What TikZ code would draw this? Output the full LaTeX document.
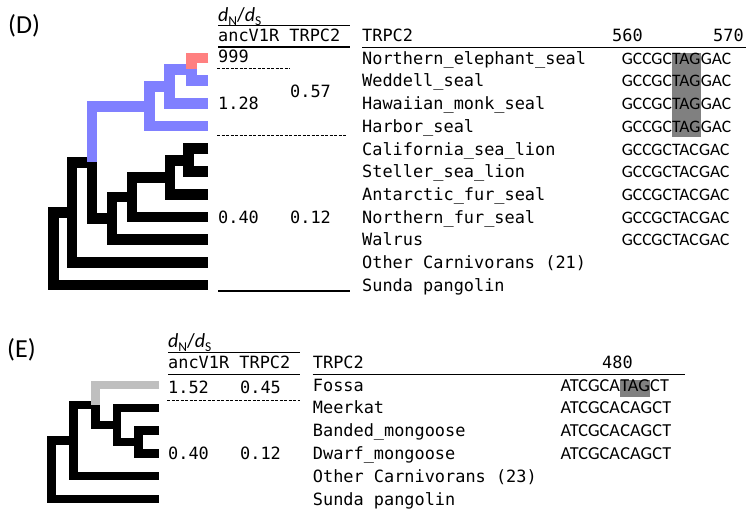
\documentclass[tikz,border=0pt]{standalone}
\usepackage{fontspec}
\setmainfont{Carlito}
\setmonofont{DejaVu Sans Mono}
\usepackage{tikz}
\usetikzlibrary{positioning}
\usepackage{xcolor}
\definecolor{phocid}{HTML}{8080FF}
\definecolor{mirounga}{HTML}{FF8080}
\definecolor{euplerid}{HTML}{BFBFBF}
\definecolor{stopcodon}{HTML}{808080}
\newcommand{\subfont}[1]{\raisebox{-0.45ex}{\fontsize{13.5}{14}\selectfont #1}}
\newcommand{\dnds}{\textit{d}\subfont{N}/\textit{d}\subfont{S}}
\pgfdeclarelayer{background}
\pgfsetlayers{background,main}

\begin{document}
\begin{tikzpicture}[
        x=1pt, y=-1pt,
        branch/.style={line width=10.7pt},
        twig/.style={line width=8.5pt},
        taxon/.style={anchor=base west, inner sep=0pt, font=\fontsize{16.9}{18}\ttfamily},
        seqd/.style={anchor=base west, inner sep=0pt, font=\fontsize{17.5}{18}\selectfont},
        seqe/.style={anchor=base west, inner sep=0pt, font=\fontsize{18.3}{19}\selectfont},
        panel/.style={anchor=base west, inner sep=0pt, font=\fontsize{26}{28}\selectfont},
        ratio/.style={anchor=base west, inner sep=0pt, font=\fontsize{20}{22}\selectfont},
        rule/.style={line width=1.3pt},
        dashrule/.style={line width=1pt, dash pattern=on 3pt off 1.5pt}
    ]
    \useasboundingbox (0,0) rectangle (746,512);

    % ---------- (D) pinnipeds ----------
    \node[panel] (labeld) at (8,33) {(D)};

    % tips
    \foreach \i in {1,...,11}
        \coordinate (d\i) at (208.3, {35.3+22.7*\i});
    % inner nodes
    \coordinate (dr) at (191.5, 69.35);
    \coordinate (dq) at (169.5, 86.4);
    \coordinate (dp) at (149.5, 106.25);
    \coordinate (dw) at (188.5, 160.15);
    \coordinate (dv) at (170, 177.2);
    \coordinate (du) at (132, 197.05);
    \coordinate (dt) at (112, 218.3);
    \coordinate (ds) at (92, 162.3);
    \coordinate (da) at (72, 212.3);
    \coordinate (droot) at (53.7, 248.65);

    \draw[branch] (d5) -| (dw) |- (d6);
    \draw[branch] (dw) -| (dv) |- (d7);
    \draw[branch] (dv) -| (du) |- (d8);
    \draw[branch] (du) -| (dt) |- (d9);
    \draw[branch] (ds) |- (dt);
    \draw[branch] (ds) -| (da) |- (d10);
    \draw[branch] (da) -| (droot) |- (d11);
    \draw[branch, phocid] (dp) -| (ds);
    \draw[branch, phocid] (dq) -| (dp) |- (d4);
    \draw[branch, phocid] (dr) -| (dq) |- (d3);
    \draw[branch, phocid] (dr) |- (d2);
    \draw[branch, mirounga] (d1) -| (dr);

    % dN/dS table
    \node[ratio] (dndsd) at (218,21) {\dnds};
    \draw[rule] (218,25.5) -- (350,25.5);
    \node[taxon] (genes) at (218,41) {ancV1R TRPC2};
    \draw[rule] (218,47) -- (350,47);
    \node[taxon] (mirv) at (218,62) {999};
    \draw[dashrule] (217,68.3) -- (290,68.3);
    \node[taxon] (phocv) at (218,109.3) {1.28};
    \node[taxon] (phoct) at (290,97.7) {0.57};
    \draw[dashrule] (217,135) -- (347,135);
    \node[taxon] (restv) at (218,223) {0.40};
    \node[taxon] (restt) at (290,223) {0.12};
    \draw[rule] (218,291) -- (350,291);

    % taxa and alignment
    \node[taxon] (trpd) at (362,41) {TRPC2};
    \node[taxon] (pos560) at (612,41) {560};
    \node[taxon] (pos570) at (713,41) {570};
    \draw[rule] (362,47.5) -- (746,47.5);
    \foreach \lbl [count=\i] in {Northern\_elephant\_seal, Weddell\_seal,
            Hawaiian\_monk\_seal, Harbor\_seal, California\_sea\_lion,
            Steller\_sea\_lion, Antarctic\_fur\_seal, Northern\_fur\_seal,
            Walrus, Other Carnivorans (21), Sunda pangolin}
        \node[taxon] (dname\i) at (362, {41.5+22.7*\i}) {\lbl};
    \foreach \cod [count=\i] in {TAG, TAG, TAG, TAG, TAC, TAC, TAC, TAC, TAC} {
        \node[seqd] (dpre\i) at (621.7, {41.5+22.7*\i}) {GCCGC};
        \node[seqd, base right=0pt of dpre\i] (dcod\i) {\cod};
        \node[seqd, base right=0pt of dcod\i] (dpost\i) {GAC};
    }
    % stop codon TAG shading
    \begin{pgfonlayer}{background}
        \fill[stopcodon] (dcod1.west |- 0,53.3) rectangle (dcod1.east |- 0,136.7);
    \end{pgfonlayer}

    % ---------- (E) mongooses and fossa ----------
    \node[panel] (labele) at (7,357) {(E)};

    \foreach \i in {1,...,6}
        \coordinate (e\i) at (159, {362.2+22.8*\i});
    \coordinate (em) at (138.5, 442);
    \coordinate (ek) at (117, 424.9);
    \coordinate (ef) at (95.5, 404.95);
    \coordinate (eh) at (73.5, 440.6);
    \coordinate (eroot) at (51.5, 469.8);

    \draw[twig] (e3) -| (em) |- (e4);
    \draw[twig] (e2) -| (ek) |- (em);
    \draw[twig] (ef) |- (ek);
    \draw[twig] (ef) -| (eh) |- (e5);
    \draw[twig] (eh) -| (eroot) |- (e6);
    \draw[twig, euplerid] (e1) -| (ef);

    \node[ratio] (dndse) at (168,347.5) {\dnds};
    \draw[rule] (168,352.7) -- (300,352.7);
    \node[taxon] (genese) at (168,368) {ancV1R TRPC2};
    \draw[rule] (168,374.5) -- (300,374.5);
    \node[taxon] (fossav) at (168,393.3) {1.52};
    \node[taxon] (fossat) at (240,393.3) {0.45};
    \draw[dashrule] (167,400) -- (300,400);
    \node[taxon] (herpv) at (168,459.5) {0.40};
    \node[taxon] (herpt) at (240,459.5) {0.12};

    \node[taxon] (trpe) at (312.7,368) {TRPC2};
    \node[taxon] (pos480) at (602,368) {480};
    \draw[rule] (312.7,374.5) -- (685,374.5);
    \foreach \lbl [count=\i] in {Fossa, Meerkat, Banded\_mongoose,
            Dwarf\_mongoose, Other Carnivorans (23), Sunda pangolin}
        \node[taxon] (ename\i) at (312.7, {368.2+22.8*\i}) {\lbl};
    \foreach \cod [count=\i] in {TAG, CAG, CAG, CAG} {
        \node[seqe] (epre\i) at (560.5, {368.2+22.8*\i}) {ATCGCA};
        \node[seqe, base right=0pt of epre\i] (ecod\i) {\cod};
        \node[seqe, base right=0pt of ecod\i] (epost\i) {CT};
    }
    \begin{pgfonlayer}{background}
        \fill[stopcodon] (ecod1.west |- 0,380) rectangle (ecod1.east |- 0,397.3);
    \end{pgfonlayer}
\end{tikzpicture}
\end{document}
